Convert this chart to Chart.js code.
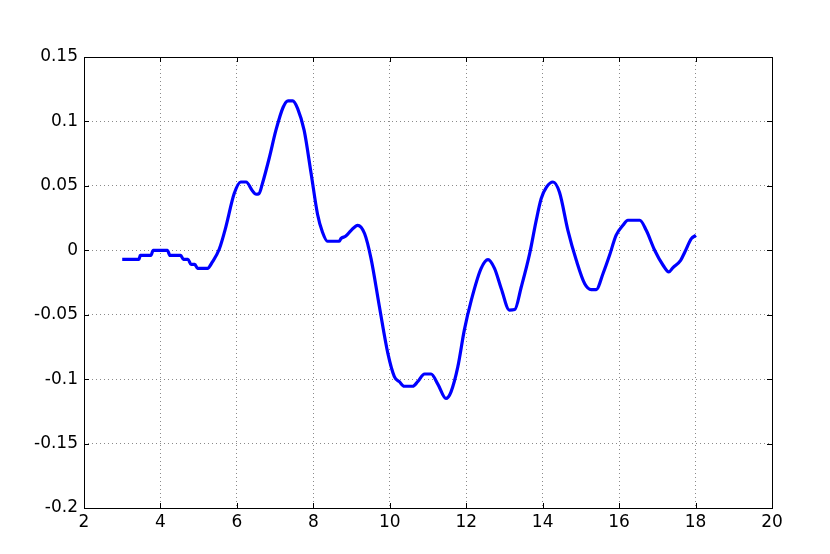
<!DOCTYPE html>
<html>
<head>
<meta charset="utf-8">
<script src="https://cdn.jsdelivr.net/npm/chart.js@4/dist/chart.umd.min.js"></script>
<style>
html,body{margin:0;padding:0;background:#fff;}
#wrap{width:830px;height:554px;position:relative;}
</style>
</head>
<body>
<div id="wrap"><canvas id="c" width="830" height="554"></canvas></div>
<script>
const xValues = [3.0, 3.44, 3.47, 3.75, 3.81, 4.18, 4.25, 4.53, 4.6, 4.72, 4.8, 4.9, 4.97, 5.23, 5.36, 5.54, 5.71, 5.93, 6.1, 6.24, 6.41, 6.5, 6.58, 6.67, 6.85, 7.02, 7.21, 7.34, 7.46, 7.59, 7.76, 7.94, 8.11, 8.24, 8.37, 8.68, 8.72, 8.85, 8.99, 9.16, 9.34, 9.51, 9.73, 9.95, 10.12, 10.25, 10.38, 10.6, 10.73, 10.91, 11.08, 11.26, 11.47, 11.6, 11.78, 11.95, 12.13, 12.39, 12.57, 12.74, 12.92, 13.13, 13.27, 13.44, 13.66, 13.83, 13.96, 14.1, 14.27, 14.44, 14.66, 14.88, 15.1, 15.27, 15.4, 15.58, 15.75, 15.92, 16.1, 16.23, 16.54, 16.71, 16.93, 17.15, 17.3, 17.41, 17.61, 17.72, 17.89, 18.01];
const yValues = [-0.007, -0.007, -0.004, -0.004, 0, 0, -0.004, -0.004, -0.007, -0.007, -0.011, -0.011, -0.014, -0.014, -0.009, 0.001, 0.018, 0.044, 0.053, 0.053, 0.046, 0.0435, 0.044, 0.052, 0.072, 0.093, 0.111, 0.116, 0.116, 0.110, 0.093, 0.060, 0.028, 0.014, 0.007, 0.007, 0.009, 0.011, 0.0155, 0.0194, 0.013, -0.0065, -0.044, -0.080, -0.098, -0.102, -0.1055, -0.1055, -0.102, -0.096, -0.096, -0.104, -0.115, -0.110, -0.0905, -0.062, -0.039, -0.014, -0.0072, -0.014, -0.030, -0.0464, -0.046, -0.0285, -0.0026, 0.023, 0.040, 0.049, 0.053, 0.045, 0.0155, -0.0078, -0.026, -0.0305, -0.0305, -0.018, -0.0039, 0.0116, 0.0194, 0.0233, 0.0233, 0.0155, 0.0, -0.0116, -0.0168, -0.0134, -0.0078, -0.0013, 0.009, 0.0116];
const xTicks = [2, 4, 6, 8, 10, 12, 14, 16, 18, 20];
const yTicks = [-0.2, -0.15, -0.1, -0.05, 0, 0.05, 0.1, 0.15];

const points = xValues.map((x, i) => ({x: x, y: yValues[i]}));

const framePlugin = {
  id: 'frame',
  afterDraw(chart) {
    const {ctx, chartArea: a, scales} = chart;
    ctx.save();
    ctx.strokeStyle = '#000';
    ctx.lineWidth = 1;
    ctx.beginPath();
    const L = 5;
    xTicks.forEach(v => {
      const px = Math.round(scales.x.getPixelForValue(v)) + 0.5;
      ctx.moveTo(px, a.bottom); ctx.lineTo(px, a.bottom - L);
      ctx.moveTo(px, a.top); ctx.lineTo(px, a.top + L);
    });
    yTicks.forEach(v => {
      const py = Math.round(scales.y.getPixelForValue(v)) + 0.5;
      ctx.moveTo(a.left, py); ctx.lineTo(a.left + L, py);
      ctx.moveTo(a.right, py); ctx.lineTo(a.right - L, py);
    });
    ctx.stroke();
    ctx.strokeRect(Math.round(a.left) + 0.5, Math.round(a.top) + 0.5, Math.round(a.right - a.left), Math.round(a.bottom - a.top));
    ctx.restore();
  }
};

const tickFont = {family: 'DejaVu Sans', size: 17};

new Chart(document.getElementById('c'), {
  type: 'line',
  data: {
    datasets: [{
      data: points,
      borderColor: '#0000ff',
      borderWidth: 3.2,
      pointRadius: 0,
      fill: false,
      cubicInterpolationMode: 'monotone'
    }]
  },
  options: {
    responsive: false,
    animation: false,
    devicePixelRatio: 1,
    layout: {padding: {left: 0, top: 57, right: 58, bottom: 0}},
    plugins: {legend: {display: false}, tooltip: {enabled: false}},
    scales: {
      x: {
        type: 'linear', min: 2, max: 20,
        afterBuildTicks: s => { s.ticks = xTicks.map(v => ({value: v})); },
        afterFit: s => { s.height = 46; },
        grid: {color: '#8a8a8a', drawTicks: false, lineWidth: 1},
        border: {display: false, dash: [1, 3]},
        ticks: {color: '#000', font: tickFont, padding: 4, maxRotation: 0,
          callback: v => String(v)}
      },
      y: {
        type: 'linear', min: -0.2, max: 0.15,
        afterBuildTicks: s => { s.ticks = yTicks.map(v => ({value: v})); },
        afterFit: s => { s.width = 84; },
        grid: {color: '#8a8a8a', drawTicks: false, lineWidth: 1},
        border: {display: false, dash: [1, 3]},
        ticks: {color: '#000', font: tickFont, padding: 6,
          callback: v => String(Math.round(v * 100) / 100)}
      }
    }
  },
  plugins: [framePlugin]
});
</script>
</body>
</html>
